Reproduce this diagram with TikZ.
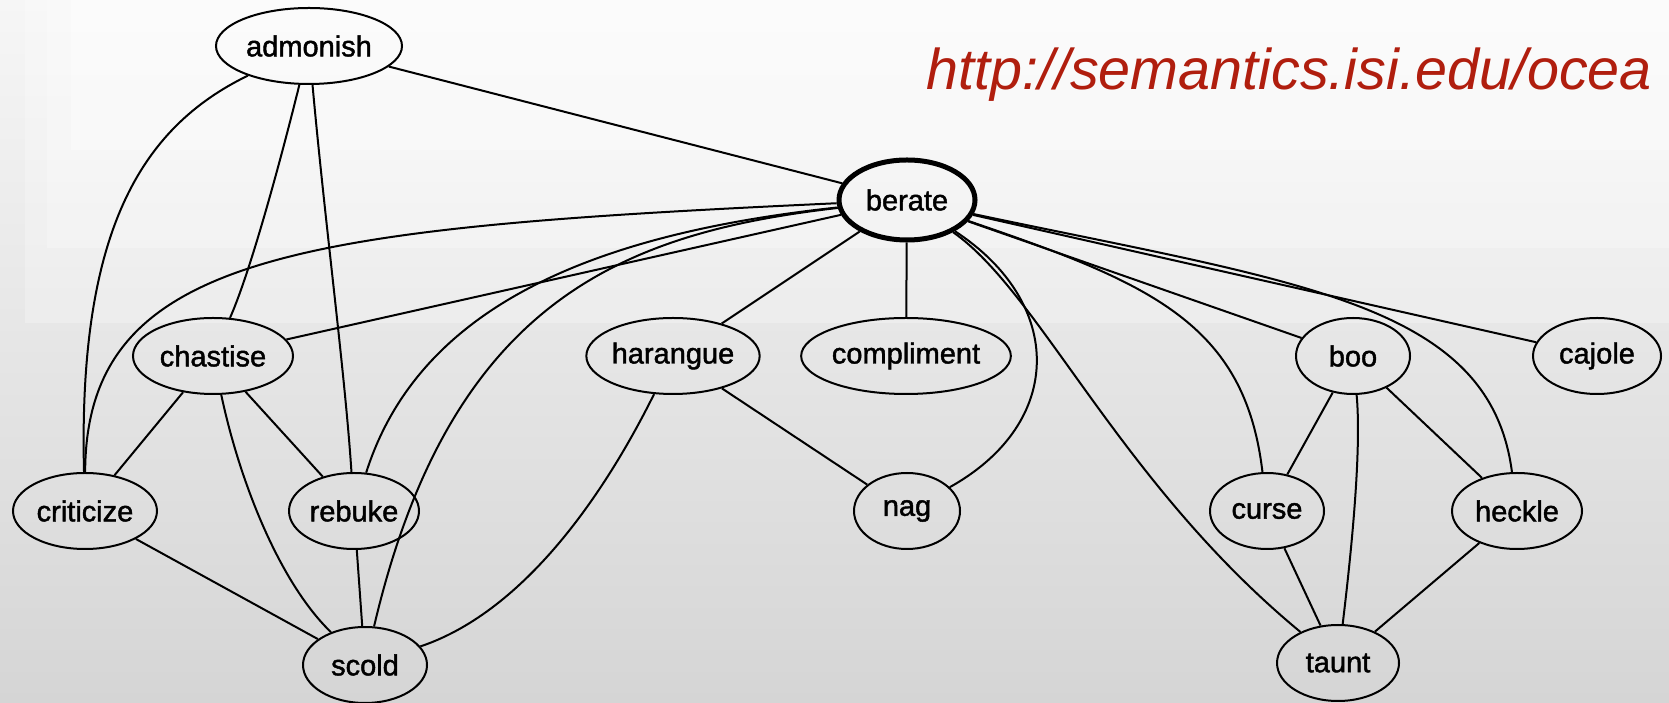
\documentclass[tikz,border=0pt]{standalone}
\usepackage{fontspec}
\setmainfont{Liberation Sans}
\newfontfamily\lblfont[FakeBold=1.5]{Liberation Sans}
\usetikzlibrary{shapes.geometric}
\definecolor{urlred}{RGB}{176,30,14}
\definecolor{bgtop}{RGB}{246,246,246}
\definecolor{bgbottom}{RGB}{213,213,213}
\begin{document}
\begin{tikzpicture}[x=1pt,y=1pt,
  word/.style={ellipse, draw=black, line width=2pt, inner sep=0pt,
    minimum height=76pt, text=black,
    font=\lblfont\fontsize{29}{30}\selectfont},
  hub/.style={word, line width=5pt, minimum height=80pt},
  link/.style={line width=2pt, draw=black},
  url/.style={inner sep=0pt, anchor=base west, text=urlred,
    font=\itshape\fontsize{57.5}{62}\selectfont}]

% slide background
\useasboundingbox (0,0) rectangle (1669,703);
\clip (0,0) rectangle (1669,703);
\shade[top color=bgtop, bottom color=bgbottom] (0,0) rectangle (1669,703);
\fill[white, opacity=.25] (25,380) rectangle (1669,703);
\fill[white, opacity=.25] (47,455) rectangle (1669,703);
\fill[white, opacity=.35] (71,553) rectangle (1669,703);

% source address
\node[url] (src) at (926,613) {http://semantics.isi.edu/ocea};

% words
\node[word, minimum width=186pt] (adm) at (309,657) {admonish};
\node[hub,  minimum width=136pt] (ber) at (907,503) {berate};
\node[word, minimum width=160pt] (cha) at (213,347) {chastise};
\node[word, minimum width=170pt] (har) at (673,347) {harangue};
\node[word, minimum width=206pt] (com) at (906,347) {compliment};
\node[word, minimum width=114pt] (boo) at (1353,347) {boo};
\node[word, minimum width=128pt] (caj) at (1597,347) {cajole};
\node[word, minimum width=144pt] (cri) at (85,192) {criticize};
\node[word, minimum width=130pt] (reb) at (354,192) {rebuke};
\node[word, minimum width=106pt] (nag) at (907,192) {nag};
\node[word, minimum width=114pt] (cur) at (1267,192) {curse};
\node[word, minimum width=130pt] (hec) at (1517,192) {heckle};
\node[word, minimum width=124pt] (sco) at (365,38) {scold};
\node[word, minimum width=122pt] (tau) at (1338,40) {taunt};

% links from admonish
\draw[link] (adm) -- (ber);
\draw[link] (adm) .. controls (140,575) and (78,470) .. (cri);
\draw[link] (adm) .. controls (280,540) and (250,430) .. (cha);
\draw[link] (adm) .. controls (325,480) and (345,330) .. (reb);

% links from berate
\draw[link] (ber) .. controls (300,475) and (86,450) .. (cri);
\draw[link] (ber) -- (cha);
\draw[link] (ber) .. controls (600,470) and (420,400) .. (reb);
\draw[link] (ber) .. controls (620,470) and (450,400) .. (sco);
\draw[link] (ber) -- (har);
\draw[link] (ber) -- (com);
\draw[link] (ber) .. controls (1065,400) and (1065,280) .. (nag);
\draw[link] (ber) .. controls (1040,410) and (1120,220) .. (tau);
\draw[link] (ber) .. controls (1150,420) and (1245,380) .. (cur);
\draw[link] (ber) -- (boo);
\draw[link] (ber) .. controls (1300,420) and (1490,400) .. (hec);
\draw[link] (ber) -- (caj);

% lower left group
\draw[link] (cha) -- (cri);
\draw[link] (cha) -- (reb);
\draw[link] (cha) .. controls (240,220) and (280,120) .. (sco);
\draw[link] (cri) -- (sco);
\draw[link] (reb) -- (sco);
\draw[link] (har) .. controls (600,200) and (520,90) .. (sco);
\draw[link] (har) -- (nag);

% lower right group
\draw[link] (boo) -- (cur);
\draw[link] (boo) .. controls (1362,250) and (1350,140) .. (tau);
\draw[link] (boo) -- (hec);
\draw[link] (cur) -- (tau);
\draw[link] (hec) -- (tau);
\end{tikzpicture}
\end{document}
